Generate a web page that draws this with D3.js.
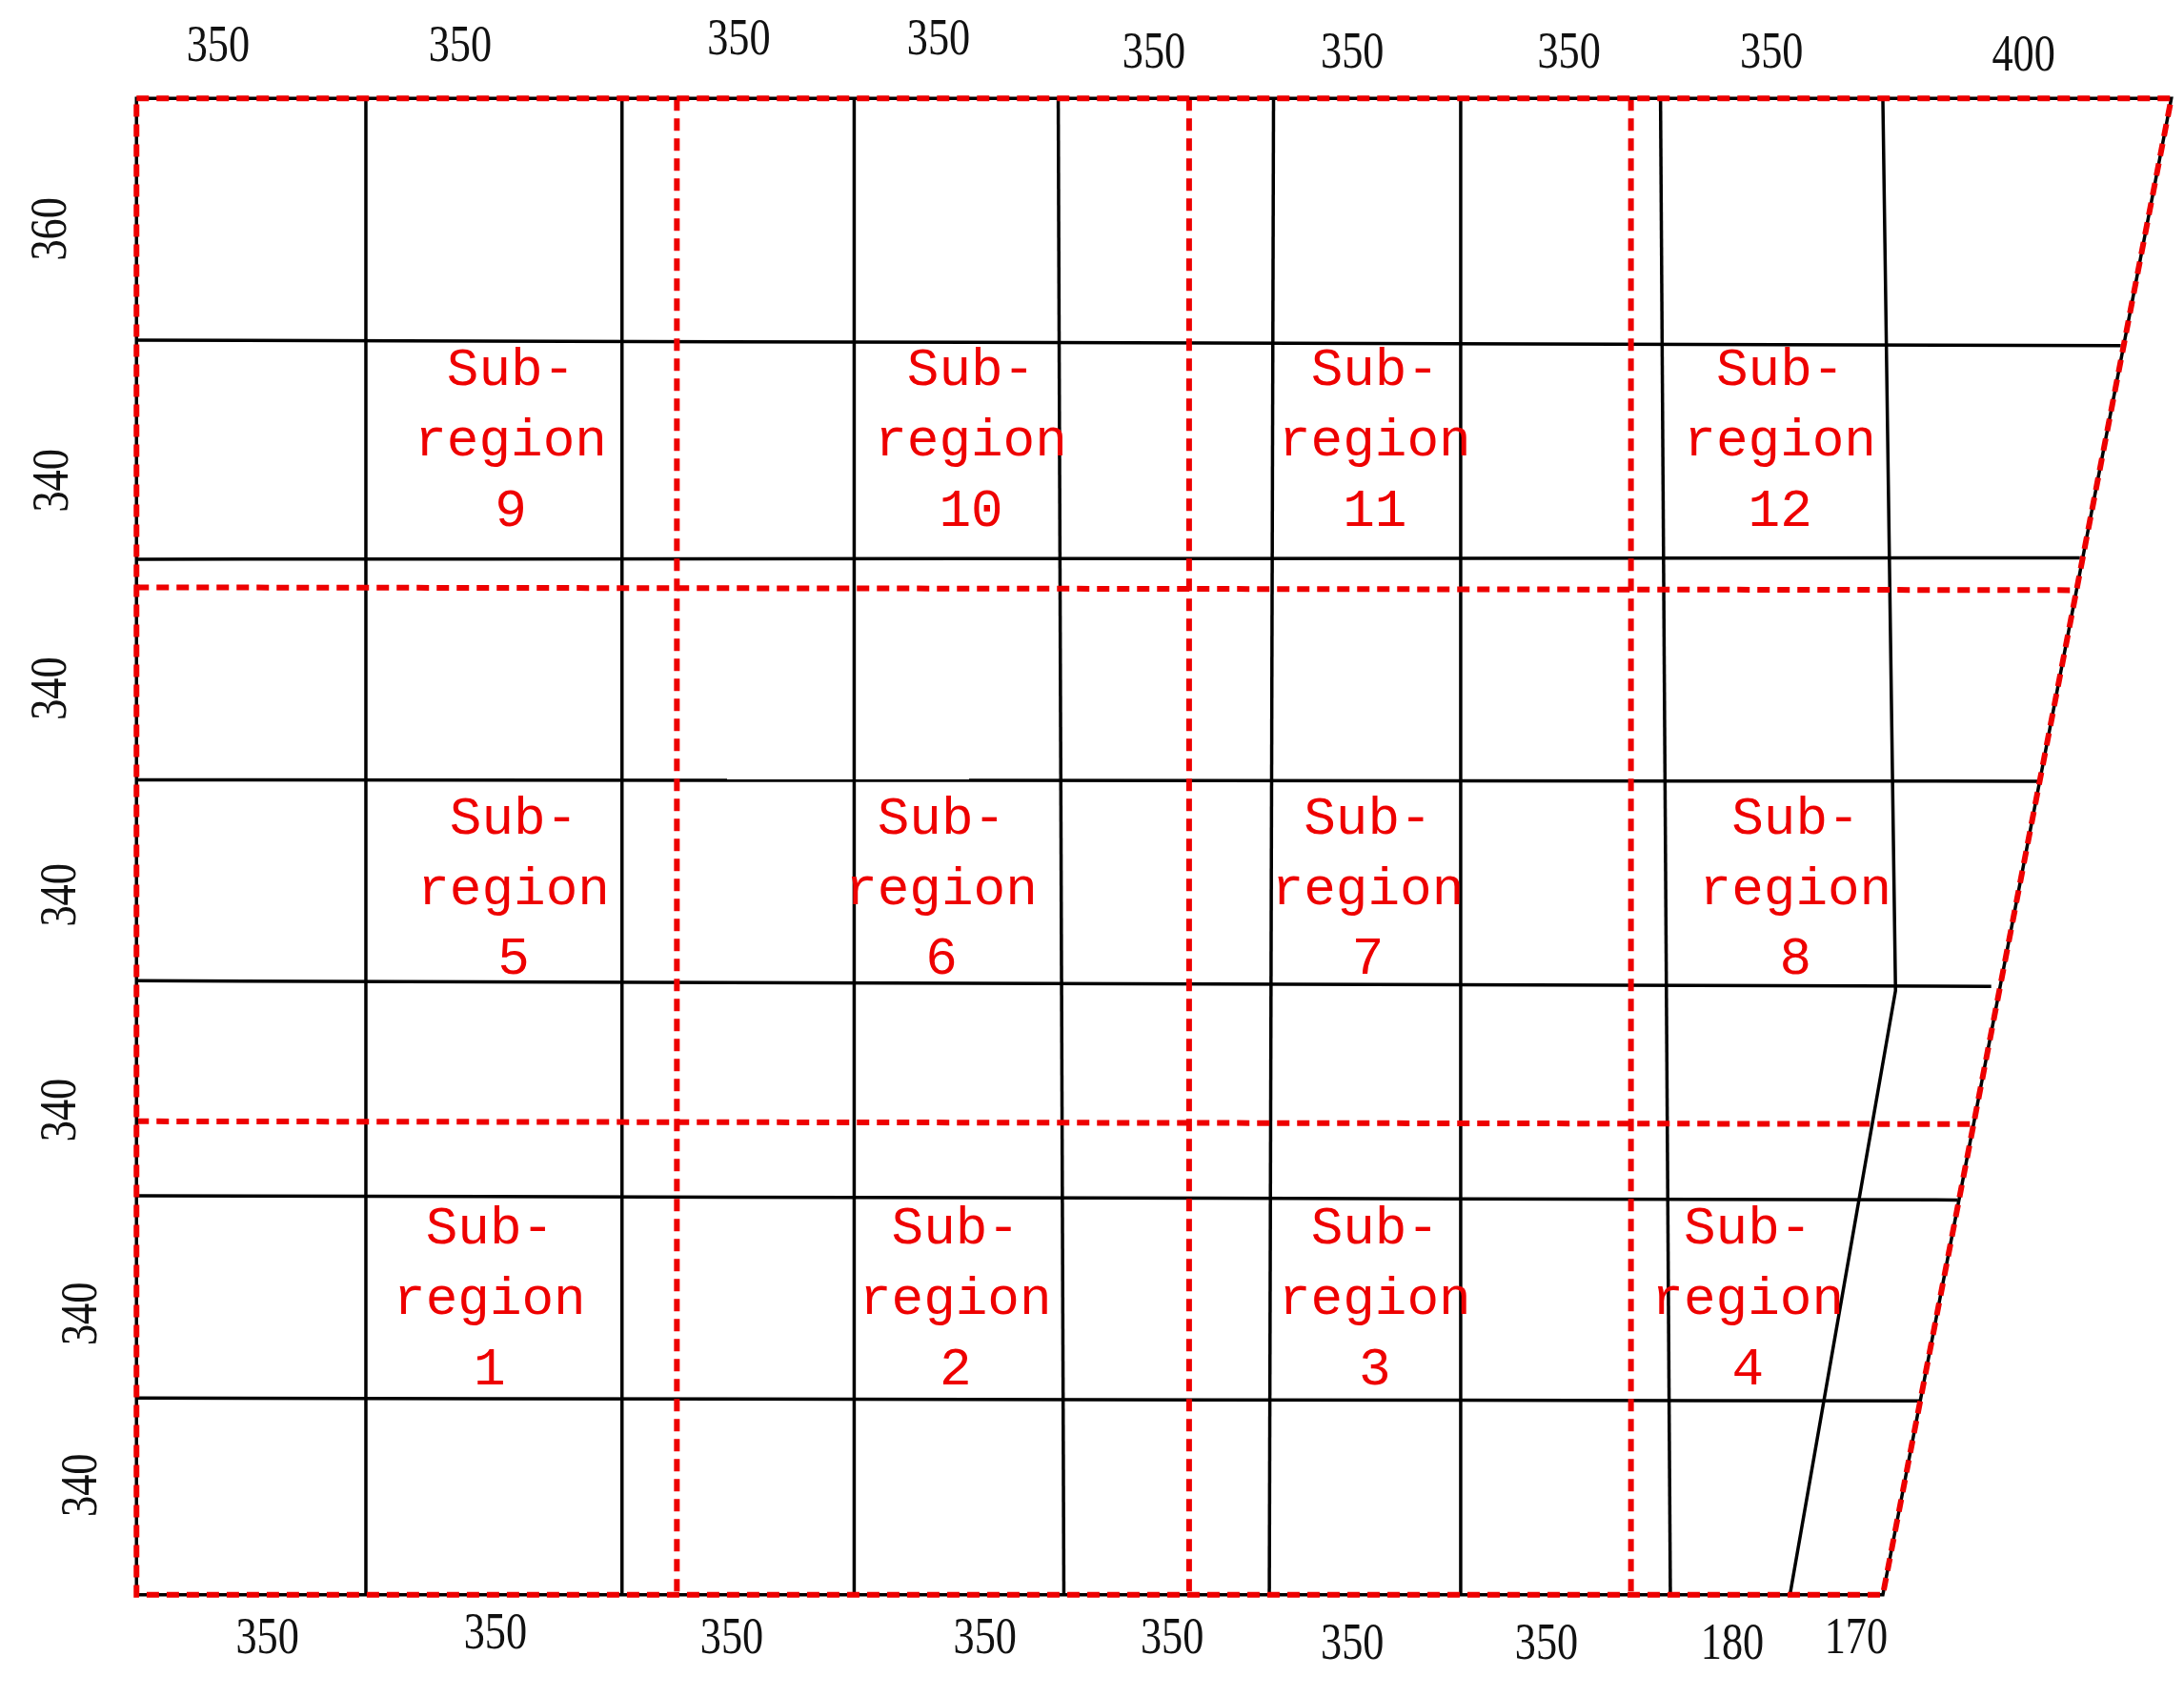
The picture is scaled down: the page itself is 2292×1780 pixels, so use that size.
<!DOCTYPE html>
<html><head><meta charset="utf-8">
<script src="https://cdn.jsdelivr.net/npm/d3@7"></script>
<style>body{margin:0;background:#fff}</style></head>
<body><svg id="c" width="2292" height="1780"></svg>
<script>
// layout units
const border = [[97,70],[1543,70],[1338,1135],[97,1135]];
const blackV = [[[260,70],[260,1135]],[[442,70],[442,1135]],[[607,70],[607,1135]],[[752,70],[756,1135]],
  [[905,70],[902,1135]],[[1038,70],[1038,1135]],[[1180,70],[1187,1135]],
  [[1338,70],[1347,705],[1272,1135]]];
const blackH = [[[97,242],[1507,246]],[[97,398],[1478,397]],[[97,555],[1449,556]],
  [[97,698],[1415,702]],[[97,851],[1391,854]],[[97,995],[1364,997]]];
const redV = [481,845,1159];
const redH = [[[97,418],[1475,420]],[[97,798],[1400,800]]];
const topLabels = [["350",155,35],["350",327,35],["350",525,30],["350",667,30],["350",820,40],["350",961,40],["350",1115,40],["350",1259,40],["400",1438,42]];
const bottomLabels = [["350",190,1168],["350",352,1165],["350",520,1168],["350",700,1168],["350",833,1168],["350",961,1172],["350",1099,1172],["180",1231,1172],["170",1319,1168]];
const leftLabels = [["360",38,163],["340",40,342],["340",38,490],["340",45,637],["340",45,790],["340",60,935],["340",60,1057]];
const regions = [["9",363,312],["10",690,312],["11",977,312],["12",1265,312],
  ["5",365,631],["6",669,631],["7",972,631],["8",1276,631],
  ["1",348,923],["2",679,923],["3",977,923],["4",1242,923]];

const sx = d3.scaleLinear().domain([0,1552]).range([0,2292]);
const sy = d3.scaleLinear().domain([0,1207]).range([0,1780]);
const svg = d3.select("#c");
const line = d3.line().x(d=>sx(d[0])).y(d=>sy(d[1]));

svg.selectAll(".bv").data(blackV.concat(blackH)).join("path")
  .attr("d",line).attr("fill","none").attr("stroke","#000").attr("stroke-width",3.5);

const dash = "13,8";
svg.selectAll(".rv").data(redV).join("line")
  .attr("x1",d=>sx(d)).attr("x2",d=>sx(d)).attr("y1",sy(70)).attr("y2",sy(1135))
  .attr("stroke","#ee0000").attr("stroke-width",6).attr("stroke-dasharray",dash);
svg.selectAll(".rh").data(redH).join("path")
  .attr("d",line).attr("fill","none").attr("stroke","#ee0000").attr("stroke-width",6).attr("stroke-dasharray",dash);
svg.append("path").attr("d",line(border)+"Z").attr("fill","none").attr("stroke","#000").attr("stroke-width",3.5);
svg.append("path").attr("d",line(border)+"Z").attr("fill","none").attr("stroke","#ee0000").attr("stroke-width",6).attr("stroke-dasharray",dash);

const numFont = "'Liberation Serif', serif";
function num(sel){ sel.attr("font-family",numFont).attr("font-size",54).attr("fill","#111").attr("text-anchor","middle").attr("dominant-baseline","middle"); }
svg.selectAll(".tl").data(topLabels.concat(bottomLabels)).join("text")
  .attr("transform",d=>`translate(${sx(d[1])},${sy(d[2])}) scale(0.82,1)`).text(d=>d[0]).call(num);
svg.selectAll(".ll").data(leftLabels).join("text")
  .attr("transform",d=>`translate(${sx(d[1])},${sy(d[2])}) rotate(-90) scale(0.82,1)`).text(d=>d[0]).call(num);

const rg = svg.selectAll(".rg").data(regions).join("text")
  .attr("font-family","'Liberation Mono', 'DejaVu Sans Mono', monospace").attr("font-size",56)
  .attr("fill","#ee0000").attr("text-anchor","middle");
rg.each(function(d){
  const t = d3.select(this);
  ["Sub-","region",d[0]].forEach((s,i)=>{
    t.append("tspan").attr("x",sx(d[1])).attr("y",sy(d[2]-50+i*50)+18).text(s);
  });
});
</script></body></html>
